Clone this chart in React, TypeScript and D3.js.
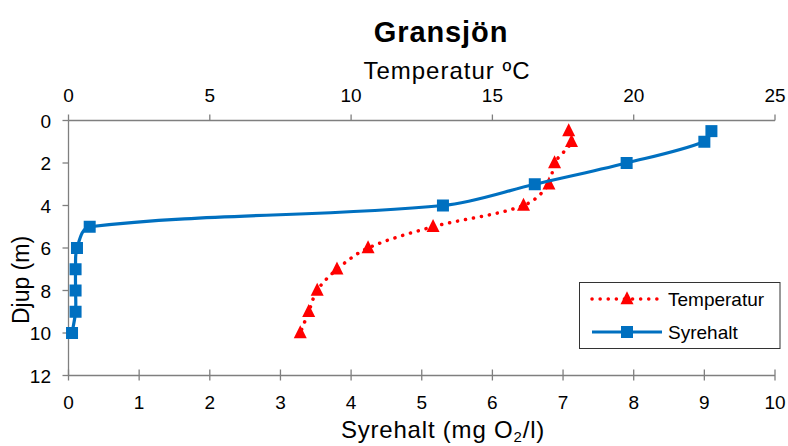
import React from "react";
import * as d3 from "d3";

const depths = [0.5, 1, 2, 3, 4, 5, 6, 7, 8, 9, 10];
const temperature = [17.7, 17.8, 17.2, 17.0, 16.1, 12.9, 10.6, 9.5, 8.8, 8.5, 8.2];
const oxygen = [9.1, 9.0, 7.9, 6.6, 5.3, 0.3, 0.12, 0.1, 0.1, 0.1, 0.05];
const oxygenTicks = [0, 1, 2, 3, 4, 5, 6, 7, 8, 9, 10];
const tempTicks = [0, 5, 10, 15, 20, 25];
const depthTicks = [0, 2, 4, 6, 8, 10, 12];

const W = 788;
const H = 446;
const left = 68.5;
const right = 775;
const top = 120.5;
const bottom = 375.5;
const font = "Liberation Sans, Arial, sans-serif";
const axisColor = "#7f7f7f";
const blue = "#0070C0";
const red = "#FF0000";

// Excel-like smoothing: tangent direction from neighbours, length from chord
function smoothPath(pts: [number, number][]): string {
  const path = d3.path();
  const n = pts.length;
  const dirs = pts.map((p, i) => {
    const a = pts[Math.max(0, i - 1)];
    const b = pts[Math.min(n - 1, i + 1)];
    const dx = b[0] - a[0];
    const dy = b[1] - a[1];
    const l = Math.hypot(dx, dy) || 1;
    return [dx / l, dy / l];
  });
  path.moveTo(pts[0][0], pts[0][1]);
  for (let i = 0; i < n - 1; i++) {
    const p = pts[i];
    const q = pts[i + 1];
    const L = Math.hypot(q[0] - p[0], q[1] - p[1]) / 3;
    path.bezierCurveTo(
      p[0] + dirs[i][0] * L, p[1] + dirs[i][1] * L,
      q[0] - dirs[i + 1][0] * L, q[1] - dirs[i + 1][1] * L,
      q[0], q[1]
    );
  }
  return path.toString();
}

export default function App() {
  const xO = d3.scaleLinear().domain([0, 10]).range([left, right]);
  const xT = d3.scaleLinear().domain([0, 25]).range([left, right]);
  const y = d3.scaleLinear().domain([0, 12]).range([top, bottom]);

  const oxyPts: [number, number][] = depths.map((d, i) => [xO(oxygen[i]), y(d)]);
  const tmpPts: [number, number][] = depths.map((d, i) => [xT(temperature[i]), y(d)]);

  const tri = (cx: number, cy: number, s = 13) =>
    `M${cx},${cy - s * 0.6} L${cx + s / 2},${cy + s * 0.4} L${cx - s / 2},${cy + s * 0.4} Z`;
  const sq = 12;

  return (
    <svg width={W} height={H} style={{ position: "absolute", left: 0, top: 0 }} fontFamily={font}>
      <rect width={W} height={H} fill="#fff" />
      <text x={441} y={41.5} textAnchor="middle" fontSize={29} fontWeight="bold" letterSpacing={0.9}>Gransjön</text>
      <text x={447} y={78.5} textAnchor="middle" fontSize={24} letterSpacing={1}>Temperatur ºC</text>
      {/* Top axis */}
      <line x1={left} x2={right} y1={top} y2={top} stroke={axisColor} strokeWidth={1.3} />
      {tempTicks.map((t) => (
        <g key={"tt" + t}>
          <line x1={xT(t)} x2={xT(t)} y1={top - 6} y2={top} stroke={axisColor} strokeWidth={1.3} />
          <text x={xT(t)} y={102} textAnchor="middle" fontSize={19}>{t}</text>
        </g>
      ))}
      {/* Bottom axis */}
      <line x1={left} x2={right} y1={bottom} y2={bottom} stroke={axisColor} strokeWidth={1.3} />
      {oxygenTicks.map((t) => (
        <g key={"ot" + t}>
          <line x1={xO(t)} x2={xO(t)} y1={bottom - 6} y2={bottom + 5} stroke={axisColor} strokeWidth={1.3} />
          <text x={xO(t)} y={408.5} textAnchor="middle" fontSize={19}>{t}</text>
        </g>
      ))}
      <text x={443} y={438} textAnchor="middle" fontSize={24} letterSpacing={0.8}>
        Syrehalt (mg O<tspan fontSize={15} dy={4}>2</tspan><tspan dy={-4}>/l)</tspan>
      </text>
      {/* Left axis */}
      <line x1={left} x2={left} y1={top} y2={bottom} stroke={axisColor} strokeWidth={1.3} />
      {depthTicks.map((t) => (
        <g key={"dt" + t}>
          <line x1={left - 6} x2={left} y1={y(t)} y2={y(t)} stroke={axisColor} strokeWidth={1.3} />
          <text x={51} y={y(t) + 7} textAnchor="end" fontSize={19}>{t}</text>
        </g>
      ))}
      <text transform={`translate(29,280) rotate(-90)`} textAnchor="middle" fontSize={23}>Djup (m)</text>

      {/* Temperature series */}
      <path d={smoothPath(tmpPts)} fill="none" stroke={red} strokeWidth={3.5} strokeDasharray="0.1 8" strokeLinecap="round" />
      {tmpPts.map(([cx, cy], i) => (
        <path key={"tp" + i} d={tri(cx, cy)} fill={red} />
      ))}
      {/* Oxygen series */}
      <path d={smoothPath(oxyPts)} fill="none" stroke={blue} strokeWidth={3.2} />
      {oxyPts.map(([cx, cy], i) => (
        <rect key={"op" + i} x={cx - sq / 2} y={cy - sq / 2} width={sq} height={sq} fill={blue} />
      ))}

      {/* Legend */}
      <rect x={579.5} y={282.5} width={200.5} height={66} fill="#fff" stroke="#333" strokeWidth={1} />
      <line x1={592} x2={662} y1={299} y2={299} stroke={red} strokeWidth={3.5} strokeDasharray="0.1 8" strokeLinecap="round" />
      <path d={tri(627, 299)} fill={red} />
      <text x={668} y={306} fontSize={19}>Temperatur</text>
      <line x1={592} x2={662} y1={332} y2={332} stroke={blue} strokeWidth={3.2} />
      <rect x={627 - sq / 2} y={332 - sq / 2} width={sq} height={sq} fill={blue} />
      <text x={668} y={339} fontSize={19}>Syrehalt</text>
    </svg>
  );
}
